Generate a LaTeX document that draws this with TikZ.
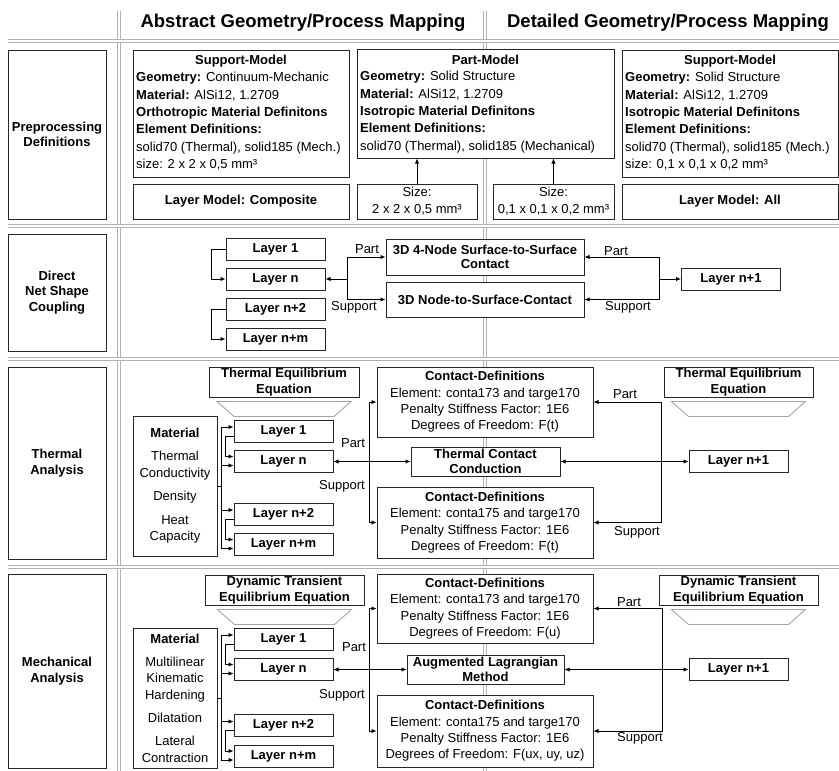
\documentclass[tikz,border=0pt]{standalone}
\usepackage{fontspec}
\setmainfont{Liberation Sans}
\usetikzlibrary{positioning,arrows.meta,calc}
\def\LayerW{99pt}
\def\LayerH{22pt}
\def\TipLen{5pt}
\def\BoxFont{\fontsize{13}{17}\selectfont}

\begin{document}
\begin{tikzpicture}[x=1pt,y=-1pt,
    font=\BoxFont,
    bold/.style={font=\BoxFont\bfseries},
    box/.style={draw=black!85,line width=1pt,fill=white,inner sep=0pt},
    layer/.style={box,bold,minimum width=\LayerW,minimum height=\LayerH},
    rowlabel/.style={box,minimum width=98pt,align=center,font=\fontsize{13}{15.7}\selectfont\bfseries},
    eqbox/.style={box,align=center,minimum height=30pt,font=\fontsize{13}{15.5}\selectfont\bfseries},
    defbox/.style={box,align=center,minimum width=216pt,font=\fontsize{13}{16.3}\selectfont},
    matbox/.style={box,align=center,minimum width=84pt,minimum height=140pt,font=\fontsize{13}{16.5}\selectfont},
    body/.style={anchor=north west,align=left,inner sep=0pt,font=\fontsize{13}{17.4}\selectfont},
    sep/.style={draw=gray!60,line width=1pt,double=white,double distance=1.3pt},
    funnel/.style={draw=gray!70,line width=0.9pt},
    arr/.style={line width=0.9pt,-{Latex[length=\TipLen,width=4.5pt]}},
    arrs/.style={line width=0.9pt,{Latex[length=\TipLen,width=4.5pt]}-{Latex[length=\TipLen,width=4.5pt]}},
    tag/.style={inner sep=0pt}]
\useasboundingbox (0,0) rectangle (839,771);
% grid of the table
\draw[sep] (119,11) -- (119,771);
\draw[sep] (485,11) -- (485,771);
\foreach \y in {41,226,359,567}
  \draw[sep] (8,\y) -- (839,\y);
\node[font=\fontsize{18.5}{22}\selectfont\bfseries] (headA) at (303,23) {Abstract Geometry/Process Mapping};
\node[font=\fontsize{18.5}{22}\selectfont\bfseries] (headB) at (668,23) {Detailed Geometry/Process Mapping};
%
% preprocessing
\node[rowlabel,minimum height=169pt] (pre) at (57,134.5) {Preprocessing\\Definitions};
\node[box,minimum width=216pt,minimum height=127pt] (supA) at (241,113.5) {};
\node[bold] (supAt) at (241,61) {Support-Model};
\node[body] (supAb) at (136,72) {\textbf{Geometry:} Continuum-Mechanic\\\textbf{Material:} AlSi12, 1.2709\\\textbf{Orthotropic Material Definitons}\\\textbf{Element Definitions:}\\solid70 (Thermal), solid185 (Mech.)\\size: 2 x 2 x 0,5 mm³};
\node[box,bold,minimum width=216pt,minimum height=35pt] (layA) at (241,201.5) {Layer Model: Composite};
\node[box,minimum width=257pt,minimum height=109pt] (part) at (485.5,103.5) {};
\node[bold] (partt) at (485.5,60) {Part-Model};
\node[body] (partb) at (360,71) {\textbf{Geometry:} Solid Structure\\\textbf{Material:} AlSi12, 1.2709\\\textbf{Isotropic Material Definitons}\\\textbf{Element Definitions:}\\solid70 (Thermal), solid185 (Mechanical)};
\node[box,minimum width=120pt,minimum height=35pt,align=center] (sizeA) at (417,201.5) {Size:\\2 x 2 x 0,5 mm³};
\node[box,minimum width=121pt,minimum height=35pt,align=center] (sizeB) at (553.5,201.5) {Size:\\0,1 x 0,1 x 0,2 mm³};
\draw[arr] (sizeA.north) -- (sizeA.north |- part.south);
\draw[arr] (sizeB.north) -- (sizeB.north |- part.south);
\node[box,minimum width=216pt,minimum height=127pt] (supB) at (730,113.5) {};
\node[bold] (supBt) at (730,61) {Support-Model};
\node[body] (supBb) at (625,72) {\textbf{Geometry:} Solid Structure\\\textbf{Material:} AlSi12, 1.2709\\\textbf{Isotropic Material Definitons}\\\textbf{Element Definitions:}\\solid70 (Thermal), solid185 (Mech.)\\size: 0,1 x 0,1 x 0,2 mm³};
\node[box,bold,minimum width=216pt,minimum height=35pt] (layB) at (730,201.5) {Layer Model: All};
%
% direct net shape coupling
\node[rowlabel,minimum height=117pt] (dns) at (57,292.5) {Direct\\Net Shape\\Coupling};
\node[layer] (dL1) at (275.5,249) {Layer 1};
\node[layer,below=7pt of dL1] (dLn) {Layer n};
\node[layer,below=7pt of dLn] (dLn2) {Layer n+2};
\node[layer,below=7pt of dLn2] (dLnm) {Layer n+m};
\node[box,minimum width=198pt,minimum height=36pt,align=center,font=\fontsize{13}{14}\selectfont\bfseries] (c4n) at (485,257) {3D 4-Node Surface-to-Surface\\Contact};
\node[box,bold,minimum width=198pt,minimum height=35pt] (nts) at (485,299.5) {3D Node-to-Surface-Contact};
\node[layer] (dLp1) at (731,279) {Layer n+1};
\coordinate (djA) at (347,279);
\coordinate (djB) at (659,279);
\draw[arr] (dL1.west) -- ++(-14,0) |- (dLn.west);
\draw[arr] (dLn2.west) -- ++(-14,0) |- (dLnm.west);
\draw[arr] (djA) -- (dLn.east);
\draw[arr] (djA) |- (c4n.west);
\draw[arr] (djA) |- (nts.west);
\draw[arr] (djB) |- (c4n.east);
\draw[arr] (djB) |- (nts.east);
\draw[arr] (djB) -- (dLp1.west);
\node[tag] (dpA) at (367,249) {Part};
\node[tag] (dsA) at (354,307) {Support};
\node[tag] (dpB) at (616,251) {Part};
\node[tag] (dsB) at (628,307) {Support};
%
% thermal analysis
\node[rowlabel,minimum height=192pt] (ta) at (57,463) {Thermal\\Analysis};
\node[eqbox,minimum width=150pt] (teqA) at (284,382) {Thermal Equilibrium\\Equation};
\node[eqbox,minimum width=149pt] (teqB) at (738.5,382) {Thermal Equilibrium\\Equation};
\node[matbox] (matT) at (175,486) {\textbf{Material}\\[6.5pt]Thermal\\Conductivity\\[7pt]Density\\[7pt]Heat\\Capacity};
\node[layer] (tL1) at (283.5,431) {Layer 1};
\node[layer,below=7.5pt of tL1] (tLn) {Layer n};
\node[layer] (tL2) at (283.5,514) {Layer n+2};
\node[layer,below=7.5pt of tL2] (tLm) {Layer n+m};
\node[defbox,minimum height=70pt] (tcdA) at (485,402) {\textbf{Contact-Definitions}\\Element: conta173 and targe170\\Penalty Stiffness Factor: 1E6\\Degrees of Freedom: F(t)};
\node[eqbox,minimum width=149pt,minimum height=29pt,font=\fontsize{13}{15}\selectfont\bfseries] (tcc) at (485.5,461.5) {Thermal Contact\\Conduction};
\node[defbox,minimum height=71pt] (tcdB) at (485,522.5) {\textbf{Contact-Definitions}\\Element: conta175 and targe170\\Penalty Stiffness Factor: 1E6\\Degrees of Freedom: F(t)};
\node[layer] (tLp1) at (738.5,461.5) {Layer n+1};
\coordinate (tmat) at ($(matT.east)+(4,0)$);
\coordinate (tjA) at (369,461.5);
\coordinate (tjB) at (661,461.5);
\draw[line width=0.9pt] (matT.east) -- (tmat);
\draw[arr] (tmat) |- ([yshift=4pt]tL1.west);
\draw[arr] (tmat) |- ([yshift=-4pt]tLn.west);
\draw[arr] (tmat) |- ([yshift=4pt]tL2.west);
\draw[arr] (tmat) |- ([yshift=-4pt]tLm.west);
\draw[arr] ([yshift=-5pt]tL1.west) -- ++(-8,0) |- ([yshift=5pt]tLn.west);
\draw[arr] ([yshift=-5pt]tL2.west) -- ++(-8,0) |- ([yshift=5pt]tLm.west);
\draw[arr] (tjA) |- (tcdA.west);
\draw[arr] (tjA) |- (tcdB.west);
\draw[arrs] (tLn.east) -- (tcc.west);
\draw[arr] (tjB) |- (tcdA.east);
\draw[arr] (tjB) |- (tcdB.east);
\draw[arrs] (tcc.east) -- (tLp1.west);
\node[tag] (tpA) at (353,443) {Part};
\node[tag] (tsA) at (342,486) {Support};
\node[tag] (tpB) at (625,394) {Part};
\node[tag] (tsB) at (637,532) {Support};
%
% mechanical analysis
\node[rowlabel,minimum height=194pt] (ma) at (57,671) {Mechanical\\Analysis};
\node[eqbox,minimum width=159pt] (deqA) at (284.5,590) {Dynamic Transient\\Equilibrium Equation};
\node[eqbox,minimum width=159pt] (deqB) at (738.5,590) {Dynamic Transient\\Equilibrium Equation};
\node[matbox] (matM) at (175,698) {\textbf{Material}\\[6.5pt]Multilinear\\Kinematic\\Hardening\\[7pt]Dilatation\\[6.5pt]Lateral\\Contraction};
\node[layer] (mL1) at (283.5,639) {Layer 1};
\node[layer,below=7.5pt of mL1] (mLn) {Layer n};
\node[layer] (mL2) at (283.5,725.5) {Layer n+2};
\node[layer,below=7.5pt of mL2] (mLm) {Layer n+m};
\node[defbox,minimum height=69pt] (mcdA) at (485,608.5) {\textbf{Contact-Definitions}\\Element: conta173 and targe170\\Penalty Stiffness Factor: 1E6\\Degrees of Freedom: F(u)};
\node[eqbox,minimum width=157pt,minimum height=29pt,font=\fontsize{13}{15}\selectfont\bfseries] (alm) at (485.5,669.5) {Augmented Lagrangian\\Method};
\node[defbox,minimum height=72pt] (mcdB) at (485,731) {\textbf{Contact-Definitions}\\Element: conta175 and targe170\\Penalty Stiffness Factor: 1E6\\Degrees of Freedom: F(ux, uy, uz)};
\node[layer] (mLp1) at (738.5,669.5) {Layer n+1};
\coordinate (mmat) at ($(matM.east)+(4,0)$);
\coordinate (mjA) at (369,669.5);
\coordinate (mjB) at (662,669.5);
\draw[line width=0.9pt] (matM.east) -- (mmat);
\draw[arr] (mmat) |- ([yshift=4pt]mL1.west);
\draw[arr] (mmat) |- ([yshift=-4pt]mLn.west);
\draw[arr] (mmat) |- ([yshift=4pt]mL2.west);
\draw[arr] (mmat) |- ([yshift=-4pt]mLm.west);
\draw[arr] ([yshift=-5pt]mL1.west) -- ++(-8,0) |- ([yshift=5pt]mLn.west);
\draw[arr] ([yshift=-5pt]mL2.west) -- ++(-8,0) |- ([yshift=5pt]mLm.west);
\draw[arr] (mjA) |- (mcdA.west);
\draw[arr] (mjA) |- (mcdB.west);
\draw[arrs] (mLn.east) -- (alm.west);
\draw[arr] (mjB) |- (mcdA.east);
\draw[arr] (mjB) |- (mcdB.east);
\draw[arrs] (alm.east) -- (mLp1.west);
\node[tag] (mpA) at (354,647) {Part};
\node[tag] (msA) at (342,695) {Support};
\node[tag] (mpB) at (629,602) {Part};
\node[tag] (msB) at (640,738) {Support};
%
% funnels under the equation boxes
\foreach \eq in {teqA,teqB,deqA,deqB}
  \draw[funnel] ($(\eq.south)+(-67,4)$) -- ++(134,0) -- ++(-17,15) -- ++(-100,0) -- cycle;
\end{tikzpicture}
\end{document}
